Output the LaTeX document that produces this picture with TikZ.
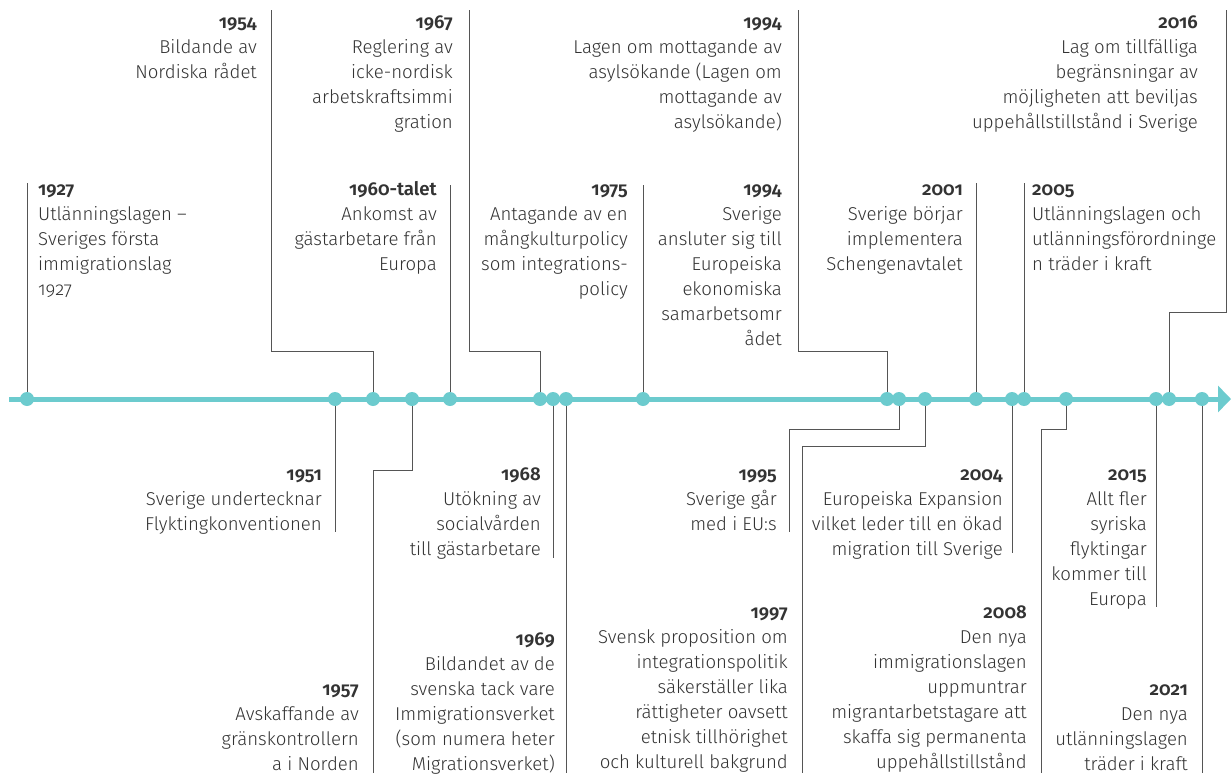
\documentclass[tikz,border=0pt]{standalone}
\usepackage{fontspec}
\setmainfont{Fira Sans Light}[BoldFont={Fira Sans SemiBold}, Numbers=OldStyle]
\usetikzlibrary{arrows.meta}
\definecolor{tl}{HTML}{6CCBCE}
\definecolor{ln}{HTML}{555555}
\definecolor{tx}{HTML}{333333}
\newcommand{\yr}[1]{\strut\textbf{#1}}
\begin{document}
\begin{tikzpicture}[x=1pt,y=-1pt,
  dot/.style={circle,fill=tl,minimum size=14pt,inner sep=0pt},
  conn/.style={draw=ln,line width=1pt},
  timeline/.style={draw=tl,line width=5pt,-{Triangle[length=13pt,width=26pt]}},
  lblR/.style={anchor=north east,align=right,inner sep=0pt,text=tx,font=\fontsize{18.6}{25}\selectfont},
  lblL/.style={anchor=north west,align=left,inner sep=0pt,text=tx,font=\fontsize{18.6}{25}\selectfont}]
\fill[white] (0,0) rectangle (1231,776);
\useasboundingbox (0,0) rectangle (1231,776);

% timeline
\coordinate (tlstart) at (9,399);
\coordinate (tlend) at (1231,399);
\draw[timeline] (tlstart) -- (tlend);

% dots
\foreach \n/\x in {1927/27,1951/335,1954/373,1957/412,1960/450,1967/540,1968/553,1969/566,1975/643,1994/887,1995/899,1997/925,2001/976,2004/1012,2005/1024,2008/1066,2015/1156,2016/1169,2021/1202}
  \node[dot] (d\n) at (\x,399) {};

% connector end points and bends
\coordinate (e1927) at (27,183);
\coordinate (e1960) at (450,185);
\coordinate (e1975) at (643,185);
\coordinate (e2001) at (976,183);
\coordinate (e2005) at (1024,183);
\coordinate (k1954) at (271,351);  \coordinate (e1954) at (271,10);
\coordinate (k1967) at (469,351);  \coordinate (e1967) at (469,10);
\coordinate (k1994) at (798,351);  \coordinate (e1994) at (798,10);
\coordinate (k2016) at (1226,312); \coordinate (e2016) at (1226,10);
\coordinate (e1951) at (335,532);
\coordinate (k1957) at (373,470);  \coordinate (e1957) at (373,773);
\coordinate (e1968) at (553,558);
\coordinate (e1969) at (566,773);
\coordinate (k1995) at (789,429);  \coordinate (e1995) at (789,532);
\coordinate (k1997) at (802,446);  \coordinate (e1997) at (802,773);
\coordinate (e2004) at (1012,553);
\coordinate (k2008) at (1041,429); \coordinate (e2008) at (1041,773);
\coordinate (e2015) at (1156,607);
\coordinate (e2021) at (1202,773);

% connectors above
\draw[conn] (d1927.north) -- (e1927);
\draw[conn] (d1960.north) -- (e1960);
\draw[conn] (d1975.north) -- (e1975);
\draw[conn] (d2001.north) -- (e2001);
\draw[conn] (d2005.north) -- (e2005);
\draw[conn] (d1954.north) |- (k1954) -- (e1954);
\draw[conn] (d1967.north) |- (k1967) -- (e1967);
\draw[conn] (d1994.north) |- (k1994) -- (e1994);
\draw[conn] (d2016.north) |- (k2016) -- (e2016);
% connectors below
\draw[conn] (d1951.south) -- (e1951);
\draw[conn] (d1968.south) -- (e1968);
\draw[conn] (d1969.south) -- (e1969);
\draw[conn] (d2004.south) -- (e2004);
\draw[conn] (d2015.south) -- (e2015);
\draw[conn] (d2021.south) -- (e2021);
\draw[conn] (d1957.south) |- (k1957) -- (e1957);
\draw[conn] (d1995.south) |- (k1995) -- (e1995);
\draw[conn] (d1997.south) |- (k1997) -- (e1997);
\draw[conn] (d2008.south) |- (k2008) -- (e2008);

% labels above
\node[lblL] (t1927) at (38,177.5) {\yr{1927}\\Utlänningslagen –\\Sveriges första\\immigrationslag\\1927};
\node[lblR] (t1954) at (257,10.5) {\yr{1954}\\Bildande av\\Nordiska rådet};
\node[lblR] (t1960) at (437,177.5) {\yr{1960-talet}\\Ankomst av\\gästarbetare från\\Europa};
\node[lblR] (t1967) at (453,10.5) {\yr{1967}\\Reglering av\\icke-nordisk\\arbetskraftsimmi\\gration};
\node[lblR] (t1975) at (628,177.5) {\yr{1975}\\Antagande av en\\mångkulturpolicy\\som integrations-\\policy};
\node[lblR] (t1994a) at (782,10.5) {\yr{1994}\\Lagen om mottagande av\\asylsökande (Lagen om\\mottagande av\\asylsökande)};
\node[lblR] (t1994b) at (782,177.5) {\yr{1994}\\Sverige\\ansluter sig till\\Europeiska\\ekonomiska\\samarbetsomr\\ådet};
\node[lblR] (t2001) at (963,177.5) {\yr{2001}\\Sverige börjar\\implementera\\Schengenavtalet};
\node[lblL] (t2005) at (1032,177.5) {\yr{2005}\\Utlänningslagen och\\utlänningsförordninge\\n träder i kraft};
\node[lblR] (t2016) at (1198,10.5) {\yr{2016}\\Lag om tillfälliga\\begränsningar av\\möjligheten att beviljas\\uppehållstillstånd i Sverige};

% labels below
\node[lblR] (t1951) at (322,462.5) {\yr{1951}\\Sverige undertecknar\\Flyktingkonventionen};
\node[lblR] (t1957) at (359,677.5) {\yr{1957}\\Avskaffande av\\gränskontrollern\\a i Norden};
\node[lblR] (t1968) at (541,462.5) {\yr{1968}\\Utökning av\\socialvården\\till gästarbetare};
\node[lblR] (t1969) at (555,627.5) {\yr{1969}\\Bildandet av de\\svenska tack vare\\Immigrationsverket\\(som numera heter\\Migrationsverket)};
\node[lblR] (t1995) at (777,462.5) {\yr{1995}\\Sverige går\\med i EU:s};
\node[lblR] (t1997) at (788,600.5) {\yr{1997}\\Svensk proposition om\\integrationspolitik\\säkerställer lika\\rättigheter oavsett\\etnisk tillhörighet\\och kulturell bakgrund};
\node[lblR] (t2004) at (1003,462.5) {\yr{2004}\\Europeiska Expansion\\vilket leder till en ökad\\migration till Sverige};
\node[lblR] (t2008) at (1027,600.5) {\yr{2008}\\Den nya\\immigrationslagen\\uppmuntrar\\migrantarbetstagare att\\skaffa sig permanenta\\uppehållstillstånd};
\node[lblR] (t2015) at (1147,462.5) {\yr{2015}\\Allt fler\\syriska\\flyktingar\\kommer till\\Europa};
\node[lblR] (t2021) at (1188,677.5) {\yr{2021}\\Den nya\\utlänningslagen\\träder i kraft};
\end{tikzpicture}
\end{document}
